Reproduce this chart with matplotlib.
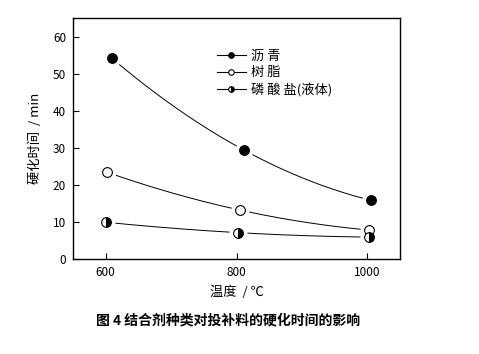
import numpy as np
import matplotlib.pyplot as plt

plt.rcParams['font.family'] = ['Noto Sans CJK SC', 'DejaVu Sans']

# data
asphalt_x = [609, 811, 1006]
asphalt_y = [54.2, 29.4, 15.8]
resin_x = [602, 805, 1003]
resin_y = [23.4, 13.2, 7.8]
phosphate_x = [601, 803, 1003]
phosphate_y = [9.9, 7.1, 5.9]
labels = ['沥 青', '树 脂', '磷 酸 盐(液体)']

fig = plt.figure(figsize=(4.79, 3.54), dpi=100)
ax = fig.add_axes([0.1524, 0.2684, 0.6827, 0.6808])

series = [
    (asphalt_x, asphalt_y, dict(marker='o', color='black', mfc='black', mec='black')),
    (resin_x, resin_y, dict(marker='o', color='black', mfc='white', mec='black')),
    (phosphate_x, phosphate_y, dict(marker='o', color='black', mfc='black', mec='black',
                                    fillstyle='right', markerfacecoloralt='white')),
]

for (xs, ys, st), lab in zip(series, labels):
    # smooth curve drawn through the three points
    c = np.polyfit(xs, ys, 2)
    xx = np.linspace(xs[0], xs[-1], 200)
    ax.plot(xx, np.polyval(c, xx), color='black', lw=0.7, zorder=2)
    # white halo to leave a small gap around each marker
    ax.plot(xs, ys, 'o', ms=12, mfc='white', mec='white', zorder=3)
    ax.plot(xs, ys, ls='none', ms=7, mew=0.8, zorder=4, **st)
    # legend handle
    ax.plot([], [], lw=0.8, ms=4, mew=0.8, label=lab, **st)

ax.set_xlim(550, 1050)
ax.set_ylim(0, 65)
ax.set_xticks([600, 800, 1000])
ax.set_yticks([0, 10, 20, 30, 40, 50, 60])
ax.tick_params(direction='in', length=4, width=0.8, labelsize=8.5, pad=5)
for s in ax.spines.values():
    s.set_linewidth(1.0)

ax.set_xlabel('温度  / ℃', fontsize=9.5, labelpad=5)
ax.set_ylabel('硬化时间  / min', fontsize=9.5, labelpad=8)

ax.legend(loc='upper left', bbox_to_anchor=(0.42, 0.895), frameon=False,
          fontsize=9.5, handlelength=2.2, handletextpad=0.4, labelspacing=0.25,
          borderpad=0)

fig.text(0.2, 0.096, '图 4 结合剂种类对投补料的硬化时间的影响', fontsize=10,
         fontweight='bold', ha='left', va='center')

fig.savefig('out.png', dpi=100)
